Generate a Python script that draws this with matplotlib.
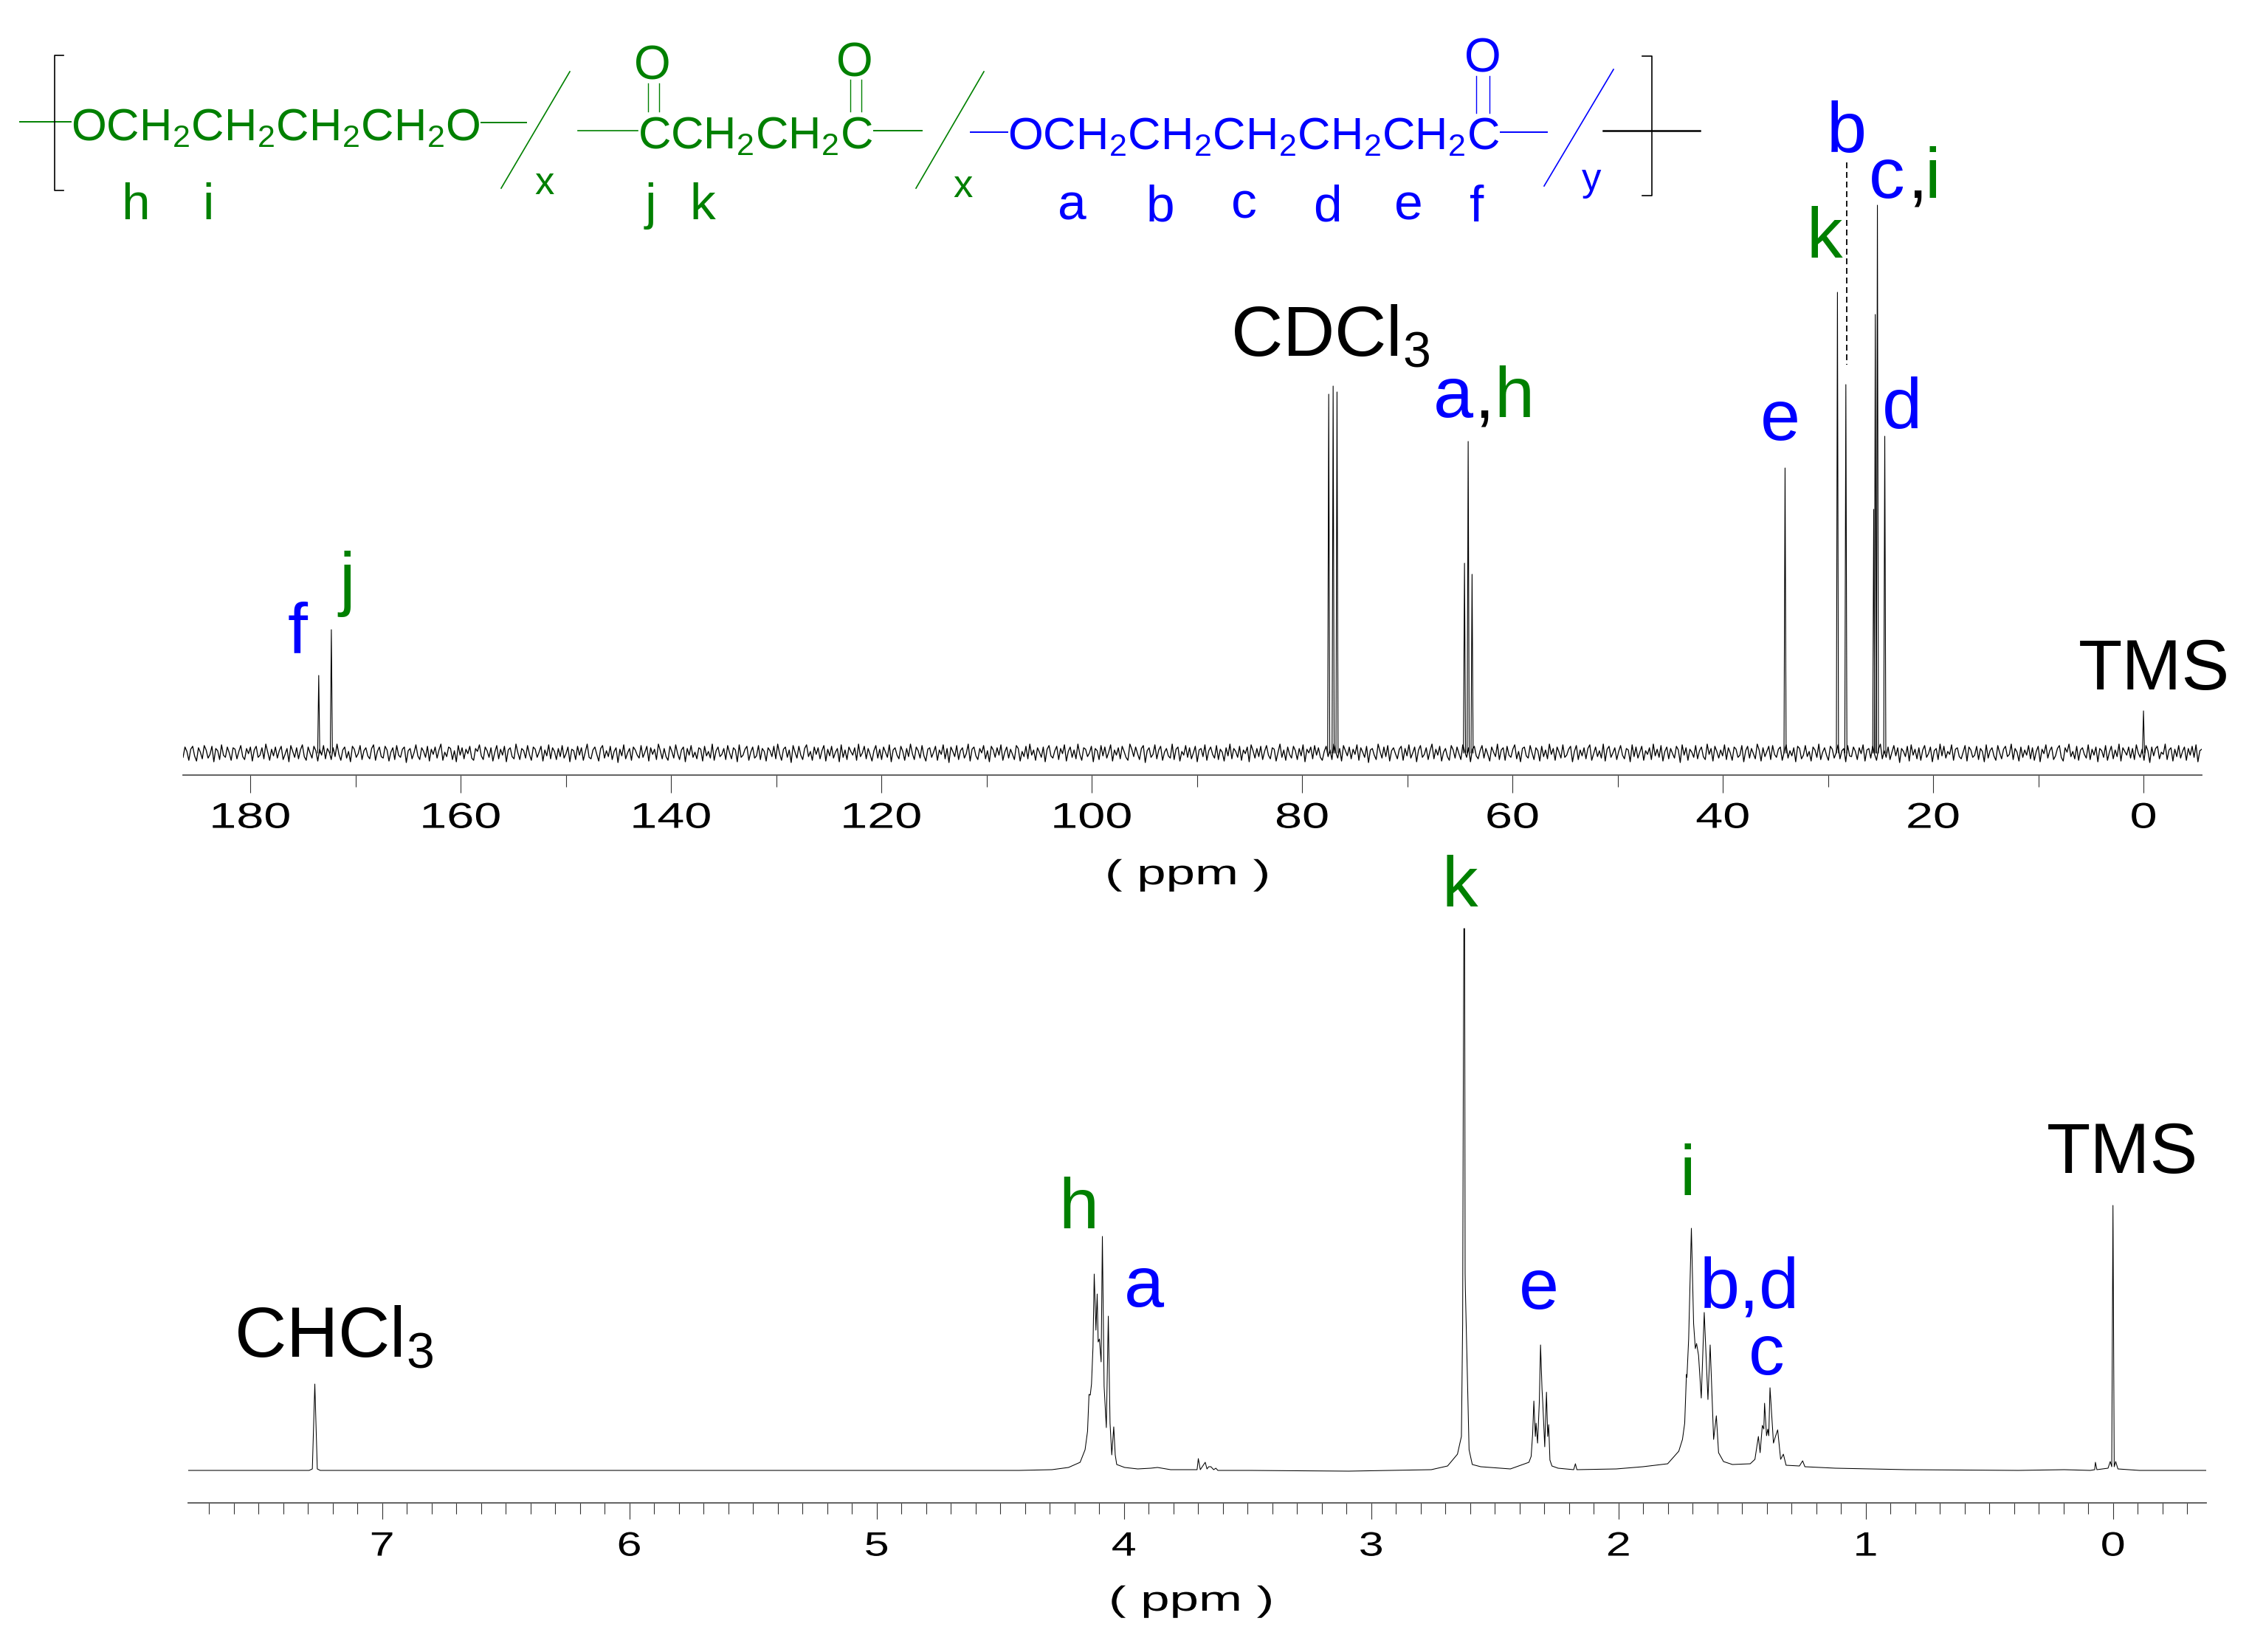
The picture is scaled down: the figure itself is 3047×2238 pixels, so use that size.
#!/usr/bin/env python3
# rebuild of the 13C / 1H NMR figure, intensities are in pixels above the baseline
import matplotlib
matplotlib.use("Agg")
import matplotlib.pyplot as plt
import matplotlib.patheffects as pe
from matplotlib.transforms import Affine2D
import numpy as np

plt.rcParams['font.family'] = ['Liberation Sans', 'DejaVu Sans']
plt.rcParams['mathtext.fontset'] = 'custom'
plt.rcParams['mathtext.rm'] = 'Liberation Sans'
plt.rcParams['mathtext.default'] = 'regular'

W, H = 3047, 2238
GREEN = '#008000'
BLUE = '#0000ff'

# 13C peaks
c13_ppm = [173.5, 172.3, 77.47, 77.05, 76.68, 64.56, 64.21, 63.84, 34.08, 29.1, 28.3, 25.65, 25.5, 25.3, 24.6, 0.0]
c13_int = [105, 167, 486, 497, 489, 257, 422, 242, 386, 624, 499, 330, 594, 742, 429, 57]

# 13C baseline noise. the band height is read off the picture, the single wiggles are only estimated
c13_noise = [
 -6, 8, 2, -10, 5, 9, -4, -11, 7, 1, -8, 10, 4, -7, -2, 9, -12, 6, 3, -9, 11, -3, -6, 8, 0, -10, 7, 5, -8, 2, 10, -5, -9, 6, -1, 8, -11, 4, 9, -6, -3, 7, -8, 12, 1, -10, 5, -4, 8, -7,
 3, 9, -9, -2, 6, -12, 10, 2, -6, 7, -8, 4, 11, -5, -10, 8, 0, -7, 9, 3, -11, 5, -3, 10, -8, 6, 1, -9, 7, -5, 12, -2, -10, 4, 8, -7, 2, -12, 9, 5, -6, -1, 10, -9, 3, 7, -4, -8, 6, 11,
 -10, 2, 8, -5, -7, 9, 4, -11, 1, 7, -9, 10, -3, -6, 5, 8, -13, 3, 6, -8, 0, 11, -4, -9, 7, 2, -6, 9, -11, 5, -2, 8, -7, 4, 12, -10, 1, -5, 8, 6, -9, 3, -12, 10, -3, 7, -8, 5, -1, 9,
 -7, -10, 6, 2, 11, -4, -9, 8, 3, -6, 7, -11, 1, 10, -8, 5, -3, 9, -12, 4, 7, -5, -8, 12, 0, -9, 6, 3, -7, 10, -2, -10, 8, 5, -6, 1, 9, -11, 4, -4, 11, -8, 7, 2, -9, 6, -5, 10, -7, -1,
 8, -12, 5, 3, -9, 9, -3, 7, -10, 1, 12, -6, -8, 4, 8, -2, -11, 6, 10, -7, 3, -5, 9, -9, 2, 7, -13, 5, -4, 11, -8, 0, 6, -10, 8, 4, -3, -7, 10, -6, 1, 9, -11, 7, -2, 5, -9, 12, 3, -8,
 6, -5, -10, 9, 2, -7, 11, -1, -9, 4, 8, -12, 6, -3, 10, -6, 1, -8, 7, 5, -11, 9, -4, 2, -7, 12, -10, 3, 8, -5, -2, 6, -9, 10, 0, -8, 7, 4, -12, 11, -6, -3, 5, 9, -10, 1, 8, -7, -4, 10,
 -9, 6, 2, -11, 7, 3, -5, 9, -8, 12, -1, -10, 5, 8, -6, 4, -13, 10, 1, -7, 9, -3, -9, 6, 11, -5, 2, -10, 8, -2, 7, -8, 3, 10, -11, 5, -4, 9, -7, 1, 6, -12, 11, -6, 4, -9, 8, 2, -3, 7,
 -10, 12, -5, 0, 9, -8, 6, -2, -11, 3, 10, -7, 5, -9, 8, 1, -6, 11, -12, 4, 7, -3, -8, 9, 2, -10, 6, -5, 12, -1, -9, 8, 3, -7, 10, -4, -11, 5, 7, -6, 1, 9, -10, 4, -2, 11, -8, 6, -13, 8,
 2, -5, 10, -9, 3, 7, -7, -1, 12, -11, 5, 8, -4, -9, 6, 0, 10, -8, 3, -12, 9, 4, -6, 7, -3, 11, -10, 1, 8, -7, 5, -2, -9, 10, 6, -11, 2, -5, 9, -8, 12, -3, 4, -10, 7, 1, -6, 8, -12, 5,
 10, -4, -7, 3, 9, -9, 6, -1, 11, -11, 2, 8, -6, 4, -8, 12, -2, -10, 7, 5, -5, 0, 9, -12, 6, 3, -9, 10, -4, 8, -7, 1, 11, -11, 4, -3, 7, -8, 9, 2, -6, -10, 12, 5, -5, 8, -1, -9, 6, 10,
 -13, 3, 7, -6, -2, 11, -8, 4, 9, -10, 1, 6, -4, -7, 12, -9, 5, 8, -11, 2, -3, 10, -6, 7, -8, 0, 9, -12, 4, 6, -5, 11, -10, 3, 8, -2, -7, 10, -9, 5, 1, -11, 7, -4, 12, -8, 6, 2, -6, 9,
 -10, 4, -1, 8, -12, 11, 3, -7, 6, -5, 9, -9, 2, 10, -3, -8, 7, 5, -11, 1, 12, -6, 4, -10, 8, -2, -7, 9, 3, -9, 6, -4, 11, -12, 5, 0, 8, -8, 10, -3, 7, -6, -10, 2, 9, -5, 4, -9, 12, 1,
 -7, 6, -11, 10, 3, -4, 8, -8, 5, -2, 11, -10, 7, 1, -6, 9, -13, 4, 6, -3, -9, 12, 2, -7, 8, -5, 10, -11, 3, 7, -1, -8, 5, 9, -10, 6, -4, 11, -7, 0, 8, -12, 4, 10, -6, -2, 7, -9, 3, 12,
 -8, 5, -3, 9, -11, 1, 6, -5, -10, 10, 4, -7, 8, -1, -9, 11, 2, -6, 7, -12, 5, 9, -4, -8, 3, 10, -7, 6, -2, -11, 8, 1, -5, 12, -9, 4, 7, -10, 9, -3, -6, 5, 11, -8, 2, -12, 6, 8, -4, -7,
 10, 0, -9, 7, 3, -11, 9, -5, 4, -8, 12, -2, 6, -10, 8, 1, -7, 11, -6, -3, 5, 9, -12, 2, 10, -9, 4, -4, 7, -8, 6, 11, -10, -1, 8, -5, 3, -7, 12, -11, 5, 9, -6, 0, 7, -9, 2, 10, -3, -8,
 6, 4, -12, 11, -5, 8, -7, 1, 9, -10, 3, -2, 7, -9, 12, -4, 5, -6, 10, -11, 2, 8, -8, 6, -1, -7, 9, 4, -13, 11, -3, 7, -10, 5, 1, -6, 10, -8, 3, 8, -5, -9, 12, -2, 6, -11, 9, 2, -7, 4,
 -4, 11, -9, 7, 0, -10, 8, 5, -6, -3, 10, -12, 3, 9, -7, 6, -1, -8, 12, 4, -11, 7, -5, 2, 9, -9, 10, -2, -6, 5, 8, -10, 1, 11, -7, 3, -4, 7, -12, 9, 6, -8, -3, 10, -5, 2, -11, 8, 4, -6,
 12, -9, 1, 7, -3, -10, 9, 5, -7, 0, 11, -8, 3, 6, -12, 10, -4, -5, 8, 2, -9, 7, -1, 11, -11, 4, 6, -7, 9, -2, -10, 5, 12, -8, 3, -6, 8, -9, 1, 10, -4, 7, -13, 6, 2, -5, 9, -11, 11, -3,
 5, -8, 7, -10, 4, 10, -6, -1, 8, -12, 3, 6, -9, 12, -4, 9, -7, 2, -2, 11, -10, 5, 7, -5, -8, 1, 10, -11, 8, 4, -6, -3, 9, -9, 6, 2, -12, 11, -7, 3, 7, -4, -10, 10, 0, -8, 5, 9, -5, -2,
 12, -9, 6, 1, -11, 8, -6, 4, -3, 10, -8, 7, -10, 2, 9, -12, 5, -1, 11, -7, 3, 8, -9, -4, 6, 10, -6, -11, 7, 1, 12, -5, 2, -8, 9, -10, 4, 7, -2, -7, 11, -9, 5, -3, 8, -12, 6, 3, -6, 10,
 -10, 1, 9, -8, 4, -5, 12, -11, 7, 2, -3, 8, -7, 6, -9, 11, 0, -6, 5, -10, 10, 3, -13, 8, -4, 6, 9, -8, 1, -2, 12, -9, 4, 7, -11, 5, -5, 10, -7, 2, 8, -10, 6, -3, 9, -6, 11, -12, 3, 5,
]

# 1H trace, left to right
h1_ppm = [7.784, 7.4, 7.295, 7.282, 7.272, 7.262, 7.25, 7.1, 6.5, 5.5, 4.8, 4.424,
          4.291, 4.224, 4.177, 4.157, 4.147, 4.141, 4.136, 4.131, 4.125, 4.120, 4.113, 4.108, 4.104, 4.099, 4.092,
          4.087, 4.080, 4.071, 4.063, 4.056, 4.049, 4.041, 4.035, 4.029, 3.997, 3.944, 3.891, 3.864, 3.811,
          3.704, 3.699, 3.691, 3.671, 3.664, 3.657, 3.648, 3.637, 3.628, 3.620, 3.491, 3.091,
          2.757, 2.691, 2.651, 2.635, 2.630, 2.627, 2.625, 2.622, 2.620, 2.619, 2.611, 2.604, 2.591, 2.557, 2.517, 2.437,
          2.362, 2.353, 2.347, 2.342, 2.336, 2.333, 2.327, 2.320, 2.315, 2.309, 2.306, 2.298, 2.291, 2.286, 2.282, 2.277,
          2.269, 2.244, 2.181, 2.174, 2.168, 2.009, 1.901, 1.801, 1.756, 1.741, 1.732, 1.725, 1.723, 1.716, 1.705,
          1.696, 1.689, 1.684, 1.676, 1.665, 1.653, 1.638, 1.629, 1.615, 1.604, 1.595, 1.575, 1.539, 1.467, 1.448,
          1.434, 1.427, 1.418, 1.412, 1.409, 1.401, 1.396, 1.392, 1.387, 1.373, 1.365, 1.356, 1.344, 1.333, 1.322,
          1.268, 1.255, 1.246, 1.123, 0.834, 0.382, 0.197, 0.092, 0.074, 0.071, 0.065, 0.020, 0.011, 0.005, 0.0,
          -0.005, -0.011, -0.020, -0.107, -0.378]
h1_int = [0, 0, 0, 2, 117, 2, 0, 0, 0, 0, 0, 0,
          1, 4, 11, 28, 53, 103, 102, 117, 167, 266, 190, 239, 174, 178, 147,
          317, 114, 58, 209, 64, 21, 59, 21, 8, 4, 2, 3, 4, 1,
          1, 16, 1, 11, 2, 5, 5, 1, 3, 0, 0, -1,
          1, 6, 22, 46, 199, 560, 734, 734, 267, 246, 128, 28, 8, 5, 4, 2,
          11, 19, 49, 94, 46, 64, 37, 92, 170, 110, 92, 32, 106, 46, 62, 14,
          6, 3, 1, 9, 1, 2, 5, 9, 26, 42, 64, 130, 126, 178, 328,
          199, 165, 172, 156, 98, 214, 96, 170, 42, 74, 24, 12, 8, 9, 15,
          46, 24, 61, 56, 91, 47, 56, 47, 112, 37, 46, 55, 15, 22, 7,
          6, 13, 5, 3, 1, 0, 1, 0, 1, 11, 1, 3, 12, 5, 359,
          5, 12, 2, 0, 0]

c13_major = [180, 160, 140, 120, 100, 80, 60, 40, 20, 0]
c13_minor = [170, 150, 130, 110, 90, 70, 50, 30, 10]
h1_major = [7, 6, 5, 4, 3, 2, 1, 0]

# (text, colour, left x, baseline y) in picture pixels
peak_labels = [
    ("CDCl$_3$", 'black', 1667, 482), ("a", BLUE, 1942, 565), (",", 'black', 1997, 565), ("h", GREEN, 2024, 565),
    ("e", BLUE, 2385, 596), ("k", GREEN, 2447, 349), ("b", BLUE, 2475, 206), ("c", BLUE, 2532, 268),
    (",", 'black', 2584, 268), ("i", GREEN, 2607, 268), ("d", BLUE, 2550, 580), ("f", BLUE, 390, 884),
    ("j", GREEN, 459, 816), ("TMS", 'black', 2816, 934),
    ("k", GREEN, 1953, 1228), ("h", GREEN, 1434, 1664), ("a", BLUE, 1523, 1770), ("e", BLUE, 2058, 1773),
    ("i", GREEN, 2275, 1619), ("b,d", BLUE, 2303, 1772), ("c", BLUE, 2369, 1862), ("TMS", 'black', 2773, 1589),
    ("CHCl$_3$", 'black', 317, 1838),
]
chain_texts = [
    ("OCH$_2$CH$_2$CH$_2$CH$_2$O", GREEN, 96, 190, 44.3), ("CCH$_2$CH$_2$C", GREEN, 864, 201, 44.3),
    ("OCH$_2$CH$_2$CH$_2$CH$_2$CH$_2$C", BLUE, 1365, 202, 44.3),
    ("O", GREEN, 859, 108, 46), ("O", GREEN, 1133, 103, 46), ("O", BLUE, 1984, 98, 46),
    ("x", GREEN, 724, 263, 38), ("x", GREEN, 1291, 267, 38), ("y", BLUE, 2143, 258, 38),
    ("h", GREEN, 164, 297, 50), ("i", GREEN, 274, 297, 50), ("j", GREEN, 874, 297, 50), ("k", GREEN, 934, 297, 50),
    ("a", BLUE, 1433, 297, 50), ("b", BLUE, 1553, 300, 50), ("c", BLUE, 1668, 295, 50),
    ("d", BLUE, 1779, 299, 50), ("e", BLUE, 1889, 297, 50), ("f", BLUE, 1991, 300, 50),
]
# (x0, y0, x1, y1, colour, width)
chain_lines = [
    (27, 165, 96, 165, GREEN, 1.4), (652, 166, 713, 166, GREEN, 1.4), (772, 97, 679, 255, GREEN, 1.2),
    (783, 177, 864, 177, GREEN, 1.2), (1184, 177, 1249, 177, GREEN, 1.4), (1333, 97, 1241, 255, GREEN, 1.2),
    (878, 113, 878, 151, GREEN, 1.0), (893, 113, 893, 151, GREEN, 1.0),
    (1152, 108, 1152, 151, GREEN, 1.0), (1167, 108, 1167, 151, GREEN, 1.0),
    (1315, 179, 1365, 179, BLUE, 1.4), (2033, 179, 2096, 179, BLUE, 1.4), (2186, 94, 2092, 252, BLUE, 1.2),
    (2000, 103, 2000, 153, BLUE, 1.0), (2018, 103, 2018, 153, BLUE, 1.0),
    (2172, 177, 2303, 177, 'black', 1.8),
]


class Stretch(pe.AbstractPathEffect):
    # the spectrometer font is wider than any installed one
    def __init__(self, sx):
        super().__init__()
        self.sx = sx

    def draw_path(self, renderer, gc, tpath, affine, rgbFace=None):
        ext = tpath.get_extents()
        cx = (ext.x0 + ext.x1) / 2
        m = Affine2D().translate(-cx, 0).scale(self.sx, 1).translate(cx, 0)
        renderer.draw_path(gc, tpath, m + affine, rgbFace)


def make_axes(x0, x1, y_top, y_bot, base_y, ppm_left, ppm_right):
    ax = fig.add_axes([x0 / W, 1 - y_bot / H, (x1 - x0) / W, (y_bot - y_top) / H])
    ax.set_xlim(ppm_left, ppm_right)
    ax.set_ylim(base_y - y_bot, base_y - y_top)
    ax.patch.set_alpha(0)
    for s in ['top', 'left', 'right']:
        ax.spines[s].set_visible(False)
    ax.spines['bottom'].set_color('#555555')
    ax.spines['bottom'].set_linewidth(1.3)
    ax.set_yticks([])
    return ax


fig = plt.figure(figsize=(W / 100, H / 100), dpi=100)

# 13C spectrum
ax1 = make_axes(248, 2983, 240, 1050, 1020, 186.4, -5.54)
noise_ppm = np.linspace(186.4, -5.54, len(c13_noise))
ax1.plot(noise_ppm, c13_noise, color='black', lw=0.95)
for p, h in zip(c13_ppm, c13_int):
    ax1.plot([p + 0.1, p, p - 0.1], [0, h, 0], color='black', lw=0.8)
ax1.set_xticks(c13_major, labels=[str(t) for t in c13_major])
ax1.set_xticks(c13_minor, minor=True)
ax1.tick_params(axis='x', which='major', length=17.3, width=0.8, color='#333333', pad=9, labelsize=35)
ax1.tick_params(axis='x', which='minor', length=11.5, width=0.8, color='#333333')
for t in ax1.get_xticklabels():
    t.set_path_effects([Stretch(1.37)])

# 1H spectrum
ax2 = make_axes(255, 2989, 1200, 2036, 1992, 7.784, -0.377)
ax2.plot(h1_ppm, h1_int, color='black', lw=0.75)
ax2.set_xticks(h1_major, labels=[str(t) for t in h1_major])
ax2.set_xticks(np.arange(-3, 78) / 10, minor=True)
ax2.tick_params(axis='x', which='major', length=16, width=0.8, color='#333333', pad=11, labelsize=33)
ax2.tick_params(axis='x', which='minor', length=11, width=0.8, color='#333333')
for t in ax2.get_xticklabels():
    t.set_path_effects([Stretch(1.33)])

# overlay in picture pixels for the labels and the formula
ov = fig.add_axes([0, 0, 1, 1])
ov.set_xlim(0, W)
ov.set_ylim(H, 0)
ov.axis('off')
ov.patch.set_alpha(0)

for txt, col, x, y in peak_labels:
    ov.text(x, y, txt, color=col, fontsize=70, ha='left', va='baseline')
for txt, col, x, y, fs in chain_texts:
    ov.text(x, y, txt, color=col, fontsize=fs, ha='left', va='baseline')
for x0, y0, x1, y1, col, lw in chain_lines:
    ov.plot([x0, x1], [y0, y1], color=col, lw=lw)

# brackets
ov.plot([86, 74, 74, 86], [75, 75, 258, 258], color='black', lw=1.2)
ov.plot([2225, 2238, 2238, 2225], [76, 76, 265, 265], color='black', lw=1.2)
# dashed guide from the b label
ov.plot([2502, 2502], [220, 494], color='black', lw=1.3, ls=(0, (4.4, 2.8)))

for cx, cy in [(1609, 1186), (1614, 2170)]:
    ov.text(cx, cy, "( ppm )", fontsize=34, ha='center', va='center', path_effects=[Stretch(1.5)])

fig.savefig("out.png", dpi=100)
